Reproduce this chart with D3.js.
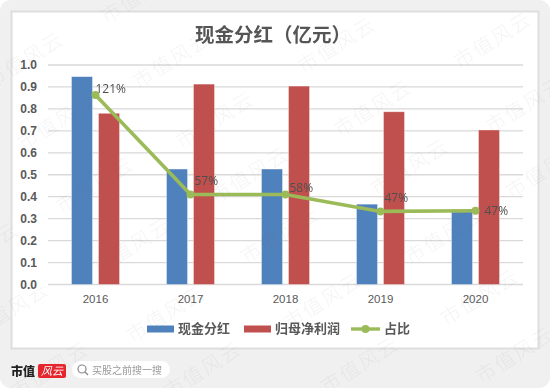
<!DOCTYPE html>
<html lang="zh">
<head>
<meta charset="utf-8">
<title>现金分红（亿元）</title>
<script src="https://d3js.org/d3.v7.min.js"></script>
<style>
html, body { margin: 0; padding: 0; background: #fff; }
svg { display: block; font-family: "Open Sans", "Noto Sans CJK SC", sans-serif; filter: blur(0.35px); }
.axis text { fill: #595959; }
.axis .domain { display: none; }
</style>
</head>
<body>
<div id="chart"></div>
<script>
var years = ["2016", "2017", "2018", "2019", "2020"];
var cash = [0.947, 0.526, 0.526, 0.366, 0.331];
var profit = [0.78, 0.913, 0.904, 0.787, 0.704];
var ratio = [0.863, 0.41, 0.41, 0.333, 0.336];
var ratioLabels = ["121%", "57%", "58%", "47%", "47%"];
var yTicks = [0, 0.1, 0.2, 0.3, 0.4, 0.5, 0.6, 0.7, 0.8, 0.9, 1.0];
var seriesNames = ["现金分红", "归母净利润", "占比"];
var colors = ["#4f81bd", "#c0504d", "#9bbb59"];
// watermark centres
var marks = [[25,60],[172,60],[337,45],[493,40],[140,-5],[57,122],[215,120],[373,108],[525,105],
  [95,185],[250,175],[410,167],[545,170],[-20,250],[132,246],[280,235],[444,236],
  [10,310],[166,314],[323,301],[480,297],[50,370],[203,370],[360,365],[515,355]];
// label nudges from the point, in px
var labelDx = [0, 4, 4, 4, 9];
var labelDy = [-6, -14, -7, -14, 0];

var width = 550, height = 388;
var svg = d3.select("#chart").append("svg").attr("width", width).attr("height", height);

// page background and card
svg.append("rect").attr("width", width).attr("height", height).attr("rx", 11).attr("fill", "#f0f0f0");
svg.append("rect").attr("x", 11.5).attr("y", 11.5).attr("width", 527).attr("height", 337)
  .attr("fill", "#fff").attr("stroke", "#dedede").attr("stroke-width", 2);

var x = d3.scaleBand().domain(years).range([48, 523]);
var y = d3.scaleLinear().domain([0, 1]).range([284.5, 65]);

// gridlines
svg.append("g").selectAll("line").data(yTicks).enter().append("line")
  .attr("x1", 48).attr("x2", 523)
  .attr("y1", function (d) { return y(d); })
  .attr("y2", function (d) { return y(d); })
  .attr("stroke", "#d9d9d9").attr("stroke-width", 1.3);

var yAxis = d3.axisLeft(y).tickValues(yTicks).tickFormat(d3.format(".1f")).tickSize(0).tickPadding(11);
svg.append("g").attr("class", "axis").attr("transform", "translate(48,0)").call(yAxis)
  .selectAll("text").style("font-size", "12px").style("font-weight", "700");

var xAxis = d3.axisBottom(x).tickSize(0).tickPadding(10);
svg.append("g").attr("class", "axis").attr("transform", "translate(0,284.5)").call(xAxis)
  .selectAll("text").style("font-size", "11.5px");

// bars
function bars(values, color, offset) {
  svg.append("g").selectAll("rect").data(values).enter().append("rect")
    .attr("x", function (d, i) { return x(years[i]) + x.bandwidth() / 2 + offset; })
    .attr("y", function (d) { return y(d); })
    .attr("width", 21)
    .attr("height", function (d) { return y(0) - y(d); })
    .attr("fill", color)
    .attr("stroke", "#fff").attr("stroke-opacity", 0.45).attr("stroke-width", 0.8);
}
bars(cash, colors[0], -24);
bars(profit, colors[1], 3);

// line
var cx = function (d, i) { return x(years[i]) + x.bandwidth() / 2; };
var line = d3.line().x(cx).y(function (d) { return y(d); });
svg.append("path").datum(ratio).attr("d", line).attr("fill", "none")
  .attr("stroke", colors[2]).attr("stroke-width", 3.6);
svg.append("g").selectAll("circle").data(ratio).enter().append("circle")
  .attr("cx", cx).attr("cy", function (d) { return y(d); }).attr("r", 4).attr("fill", colors[2]);

svg.append("g").selectAll("text").data(ratio).enter().append("text")
  .attr("x", function (d, i) { return cx(d, i) + labelDx[i]; })
  .attr("y", function (d, i) { return y(d) + labelDy[i]; })
  .attr("dy", "0.35em")
  .attr("fill", "#4f4f4f").style("font-size", "12px")
  .text(function (d, i) { return ratioLabels[i]; });

// title
svg.append("text").attr("x", 195).attr("y", 42)
  .attr("fill", "#555").style("font-size", "19.5px").style("font-weight", "700")
  .style("font-family", "'Noto Sans CJK SC'").text("现金分红（亿元）");

// legend
var legend = svg.append("g").style("font-family", "'Noto Sans CJK SC'")
  .style("font-size", "13px").style("font-weight", "700").attr("fill", "#595959");
legend.append("rect").attr("x", 147).attr("y", 325.5).attr("width", 27).attr("height", 7).attr("fill", colors[0]);
legend.append("text").attr("x", 178).attr("y", 333).text(seriesNames[0]);
legend.append("rect").attr("x", 244).attr("y", 325.5).attr("width", 27).attr("height", 7).attr("fill", colors[1]);
legend.append("text").attr("x", 275).attr("y", 333).text(seriesNames[1]);
legend.append("line").attr("x1", 351).attr("x2", 380).attr("y1", 329).attr("y2", 329)
  .attr("stroke", colors[2]).attr("stroke-width", 3.4);
legend.append("circle").attr("cx", 365.5).attr("cy", 329).attr("r", 4).attr("fill", colors[2]);
legend.append("text").attr("x", 384).attr("y", 333).text(seriesNames[2]);

// footer
var footer = svg.append("g").style("font-family", "'Noto Sans CJK SC'");
footer.append("text").attr("x", 11).attr("y", 376).attr("fill", "#222")
  .style("font-size", "12px").style("font-weight", "900").text("市值");
footer.append("rect").attr("x", 38).attr("y", 364).attr("width", 28).attr("height", 14).attr("rx", 2).attr("fill", "#e8242c");
footer.append("text").attr("x", 52).attr("y", 375).attr("text-anchor", "middle").attr("fill", "#fff")
  .style("font-size", "11px").style("font-style", "italic").text("风云");
footer.append("rect").attr("x", 72).attr("y", 361).attr("width", 98).attr("height", 17).attr("rx", 8.5).attr("fill", "#fff");
footer.append("circle").attr("cx", 82).attr("cy", 369).attr("r", 4).attr("fill", "none").attr("stroke", "#888").attr("stroke-width", 1.2);
footer.append("line").attr("x1", 85).attr("y1", 372).attr("x2", 88).attr("y2", 375).attr("stroke", "#888").attr("stroke-width", 1.2);
footer.append("text").attr("x", 92).attr("y", 373.5).attr("fill", "#999")
  .style("font-size", "10px").text("买股之前搜一搜");

// watermarks on top of everything
svg.append("g").selectAll("text").data(marks).enter().append("text")
  .attr("transform", function (d) { return "translate(" + d[0] + "," + d[1] + ") rotate(-32)"; })
  .attr("text-anchor", "middle").attr("dy", "0.35em")
  .attr("fill", "#777").attr("fill-opacity", 0.08)
  .style("font-family", "'Noto Sans CJK SC'").style("font-size", "20px").style("font-weight", "300")
  .style("letter-spacing", "2px").text("市值风云");
</script>
</body>
</html>
